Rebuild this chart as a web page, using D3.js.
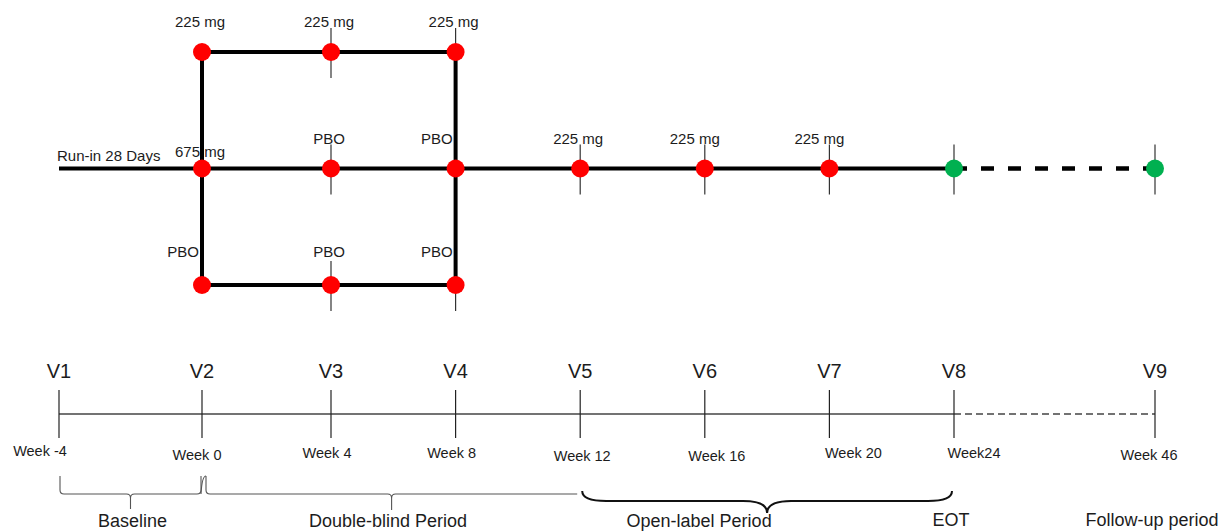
<!DOCTYPE html>
<html>
<head>
<meta charset="utf-8">
<script src="https://cdn.jsdelivr.net/npm/d3@7"></script>
<style>
  body { margin: 0; background: #fff; }
  svg { display: block; font-family: "Liberation Sans", Arial, sans-serif; }
</style>
</head>
<body>
<script>
// study visits (bottom timeline)
var weeks = [-4, 0, 4, 8, 12, 16, 20, 24, 46];
var visits = ["V1", "V2", "V3", "V4", "V5", "V6", "V7", "V8", "V9"];
var weekLabels = ["Week -4", "Week 0", "Week 4", "Week 8", "Week 12", "Week 16", "Week 20", "Week24", "Week 46"];

// treatment arms (top diagram)
var rows = ["upper", "main", "lower"];
var upperWeeks = [0, 4, 8];
var upperDoses = ["225 mg", "225 mg", "225 mg"];
var mainWeeks = [0, 4, 8, 12, 16, 20];
var mainDoses = ["675 mg", "PBO", "PBO", "225 mg", "225 mg", "225 mg"];
var lowerWeeks = [0, 4, 8];
var lowerDoses = ["PBO", "PBO", "PBO"];
var followWeeks = [24, 46]; // green visits, EOT and follow-up
var runIn = {label: "Run-in 28 Days", from: -4, to: 0};

// periods under the timeline
var periods = [
  {label: "Baseline", from: -4, to: 0},
  {label: "Double-blind Period", from: 0, to: 12},
  {label: "Open-label Period", from: 12, to: 24}
];
var endLabels = [{label: "EOT", week: 24}, {label: "Follow-up period", week: 46}];

var WIDTH = 1223, HEIGHT = 531;
var TEXT = "#1c1c1c";

// layout nudges for hand-placed labels
var weekDx = [-19, -5, -4, -4, 2, 12, 24, 20, -6];
var weekDy = [0, 4, 2, 2, 5, 5, 2, 2, 4];

var svg = d3.select("body").append("svg")
  .attr("width", WIDTH)
  .attr("height", HEIGHT);

// uneven, hand-drawn time axis; follow-up stretch is compressed
var x = d3.scaleLinear().domain([-4, 0, 4, 24, 46]).range([59, 202, 331, 954, 1155]);
var y = d3.scalePoint().domain(rows).range([52, 285]);

var dots = [];
upperWeeks.forEach(function(w, i) { dots.push({week: w, row: "upper", label: upperDoses[i], fill: "#ff0000"}); });
mainWeeks.forEach(function(w, i) { dots.push({week: w, row: "main", label: mainDoses[i], fill: "#ff0000"}); });
lowerWeeks.forEach(function(w, i) { dots.push({week: w, row: "lower", label: lowerDoses[i], fill: "#ff0000"}); });
followWeeks.forEach(function(w) { dots.push({week: w, row: "main", label: "", fill: "#00b050"}); });

var topG = svg.append("g");

// thin week ticks through each dot (not at randomisation)
topG.selectAll("line.tick")
  .data(dots.filter(function(d) { return d.week > 0; }))
  .enter().append("line")
  .attr("x1", function(d) { return x(d.week); })
  .attr("x2", function(d) { return x(d.week); })
  .attr("y1", function(d) { return y(d.row) - 24; })
  .attr("y2", function(d) { return y(d.row) + 26; })
  .attr("stroke", "#333")
  .attr("stroke-width", 1.2);

// thick arm lines
var thick = [
  [runIn.from, "main", 24, "main"],
  [0, "upper", 8, "upper"],
  [0, "lower", 8, "lower"],
  [0, "upper", 0, "lower"],
  [8, "upper", 8, "lower"]
];
topG.selectAll("line.arm")
  .data(thick)
  .enter().append("line")
  .attr("x1", function(d) { return x(d[0]); })
  .attr("y1", function(d) { return y(d[1]); })
  .attr("x2", function(d) { return x(d[2]); })
  .attr("y2", function(d) { return y(d[3]); })
  .attr("stroke", "#000")
  .attr("stroke-width", 4);

// dashed follow-up
topG.append("line")
  .attr("x1", x(followWeeks[0])).attr("x2", x(followWeeks[1]))
  .attr("y1", y("main")).attr("y2", y("main"))
  .attr("stroke", "#000")
  .attr("stroke-width", 4.5)
  .attr("stroke-dasharray", "13,14");

topG.selectAll("circle")
  .data(dots)
  .enter().append("circle")
  .attr("cx", function(d) { return x(d.week); })
  .attr("cy", function(d) { return y(d.row); })
  .attr("r", 9)
  .attr("fill", function(d) { return d.fill; });

// dose labels
topG.selectAll("text.dose")
  .data(dots.filter(function(d) { return d.label; }))
  .enter().append("text")
  .attr("x", function(d) {
    if (d.label === "PBO" && (d.week === 0 || d.week === 8)) return x(d.week) - 3;
    if (d.week > 12) return x(d.week) - 10;
    return x(d.week) - 2;
  })
  .attr("y", function(d) {
    if (d.label === "675 mg") return y(d.row) - 12;
    if (d.row === "lower") return y(d.row) - 28;
    return y(d.row) - 25;
  })
  .attr("text-anchor", function(d) {
    return (d.label === "PBO" && (d.week === 0 || d.week === 8)) ? "end" : "middle";
  })
  .attr("font-size", 15)
  .attr("fill", TEXT)
  .text(function(d) { return d.label; });

topG.append("text")
  .attr("x", x(runIn.from) - 2)
  .attr("y", y("main") - 8)
  .attr("font-size", 15)
  .attr("fill", TEXT)
  .text(runIn.label);

// ---- bottom visit timeline ----
var AXIS_Y = 414;
var bottom = svg.append("g");

bottom.append("line")
  .attr("x1", x(weeks[0])).attr("x2", x(24))
  .attr("y1", AXIS_Y).attr("y2", AXIS_Y)
  .attr("stroke", "#444").attr("stroke-width", 1.6);
bottom.append("line")
  .attr("x1", x(24)).attr("x2", x(46))
  .attr("y1", AXIS_Y).attr("y2", AXIS_Y)
  .attr("stroke", "#444").attr("stroke-width", 1.3)
  .attr("stroke-dasharray", "7,4");

bottom.selectAll("line.vt")
  .data(weeks)
  .enter().append("line")
  .attr("x1", function(d) { return x(d); })
  .attr("x2", function(d) { return x(d); })
  .attr("y1", AXIS_Y - 24)
  .attr("y2", AXIS_Y + 24)
  .attr("stroke", "#222")
  .attr("stroke-width", 1.2);

bottom.selectAll("text.visit")
  .data(visits)
  .enter().append("text")
  .attr("x", function(d, i) { return x(weeks[i]); })
  .attr("y", 378)
  .attr("text-anchor", "middle")
  .attr("font-size", 20)
  .attr("fill", TEXT)
  .text(function(d) { return d; });

bottom.selectAll("text.week")
  .data(weekLabels)
  .enter().append("text")
  .attr("x", function(d, i) { return x(weeks[i]) + weekDx[i]; })
  .attr("y", function(d, i) { return 456 + weekDy[i]; })
  .attr("text-anchor", "middle")
  .attr("font-size", 14.5)
  .attr("fill", TEXT)
  .text(function(d) { return d; });

// square-ish brace for baseline / double-blind
function flatBrace(x0, x1, yTop, yH, yPt, hookEnd) {
  var m = (x0 + x1) / 2, r = 4;
  var p = "M" + x0 + "," + yTop + " L" + x0 + "," + (yH - r) +
    " Q" + x0 + "," + yH + " " + (x0 + r) + "," + yH +
    " L" + (m - 4) + "," + yH +
    " Q" + m + "," + yH + " " + m + "," + (yH + 4) +
    " L" + m + "," + yPt +
    " M" + m + "," + (yH + 4) +
    " Q" + m + "," + yH + " " + (m + 4) + "," + yH;
  if (hookEnd) {
    p += " L" + (x1 - r) + "," + yH + " Q" + x1 + "," + yH + " " + x1 + "," + (yH - r) + " L" + x1 + "," + yTop;
  } else {
    p += " L" + x1 + "," + yH;
  }
  return p;
}
// rounded curly brace for open-label
function curlyBrace(x0, x1, yTop, yH, yPt) {
  var m = (x0 + x1) / 2, q = 24;
  return "M" + x0 + "," + yTop +
    " Q" + x0 + "," + yH + " " + (x0 + q) + "," + yH +
    " L" + (m - q) + "," + yH +
    " Q" + m + "," + yH + " " + m + "," + yPt +
    " Q" + m + "," + yH + " " + (m + q) + "," + yH +
    " L" + (x1 - q) + "," + yH +
    " Q" + x1 + "," + yH + " " + x1 + "," + yTop;
}

var pb = periods[0], pd = periods[1], po = periods[2];
bottom.append("path")
  .attr("d", flatBrace(x(pb.from) + 1, x(pb.to) - 1, 476, 494, 509, true))
  .attr("fill", "none").attr("stroke", "#555").attr("stroke-width", 1.1);
bottom.append("path")
  .attr("d", flatBrace(x(pd.from) + 4, x(pd.to) - 3, 476, 494, 510, false))
  .attr("fill", "none").attr("stroke", "#555").attr("stroke-width", 1.1);
bottom.append("path")
  .attr("d", "M" + (x(pd.from) - 1) + ",494 Q" + x(pd.from) + ",476 " + (x(pd.from) + 4) + ",476")
  .attr("fill", "none").attr("stroke", "#555").attr("stroke-width", 1.1);
bottom.append("path")
  .attr("d", curlyBrace(x(po.from) + 2, x(po.to) - 2, 491, 501, 513))
  .attr("fill", "none").attr("stroke", "#111").attr("stroke-width", 2);

var periodDx = [2, -3, -68];
bottom.selectAll("text.period")
  .data(periods)
  .enter().append("text")
  .attr("x", function(d, i) { return (x(d.from) + x(d.to)) / 2 + periodDx[i]; })
  .attr("y", 527)
  .attr("text-anchor", "middle")
  .attr("font-size", 18)
  .attr("fill", TEXT)
  .text(function(d) { return d.label; });

bottom.selectAll("text.end")
  .data(endLabels)
  .enter().append("text")
  .attr("x", function(d) { return x(d.week) - 3; })
  .attr("y", 526)
  .attr("text-anchor", "middle")
  .attr("font-size", 18)
  .attr("fill", TEXT)
  .text(function(d) { return d.label; });
</script>
</body>
</html>
